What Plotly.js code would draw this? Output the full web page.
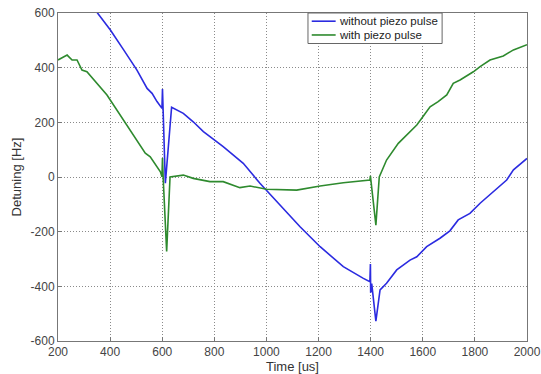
<!DOCTYPE html>
<html>
<head>
<meta charset="utf-8">
<script src="https://cdn.plot.ly/plotly-3.0.1.min.js"></script>
<style>html,body{margin:0;padding:0;background:#fff;}#chart{width:541px;height:374px;}</style>
</head>
<body>
<div id="chart"></div>
<script>
const seriesNames = ["without piezo pulse", "with piezo pulse"];
const seriesColors = ['#2b2be0', '#2e8a2e'];

const timeWithout = [200, 350, 401, 452, 503, 542, 561, 580, 599, 601, 603, 612, 636, 681, 719, 758, 834, 911, 975, 1045, 1129, 1206, 1295, 1372, 1397, 1399, 1400, 1401, 1402, 1404, 1420, 1436, 1449, 1461, 1500, 1551, 1577, 1615, 1666, 1704, 1736, 1781, 1820, 1871, 1922, 1948, 2000];
const detuningWithout = [790, 599, 538, 465, 391, 324, 306, 276, 251, 322, 245, -23, 255, 233, 202, 166, 111, 50, -23, -96, -182, -255, -328, -371, -383, -318, -423, -330, -415, -390, -527, -413, -401, -389, -340, -304, -292, -255, -224, -197, -157, -133, -96, -54, -11, 26, 68];

const timeWith = [200, 235, 254, 273, 292, 311, 388, 452, 535, 554, 593, 599, 601, 604, 617, 630, 681, 719, 783, 834, 898, 937, 988, 1001, 1116, 1206, 1295, 1397, 1399, 1402, 1420, 1433, 1461, 1506, 1551, 1577, 1596, 1628, 1659, 1692, 1717, 1743, 1794, 1820, 1858, 1909, 1948, 2000];
const detuningWith = [428, 446, 428, 428, 391, 385, 300, 209, 87, 74, 19, 1, 69, -10, -272, 0, 7, -5, -17, -17, -39, -33, -44, -45, -48, -33, -21, -11, 4, -20, -176, 0, 62, 123, 166, 190, 215, 257, 276, 300, 343, 355, 385, 404, 428, 443, 465, 484];

const xTicks = [200, 400, 600, 800, 1000, 1200, 1400, 1600, 1800, 2000];
const yTicks = [-600, -400, -200, 0, 200, 400, 600];

const FONT = 'Liberation Sans, Arial, sans-serif';

const data = [
  {x: timeWithout, y: detuningWithout, name: seriesNames[0], type: 'scatter', mode: 'lines',
   line: {color: seriesColors[0], width: 1.6}},
  {x: timeWith, y: detuningWith, name: seriesNames[1], type: 'scatter', mode: 'lines',
   line: {color: seriesColors[1], width: 1.6}}
];

const axisCommon = {
  showline: true, mirror: true, linecolor: '#777', linewidth: 1,
  showgrid: true, gridcolor: '#8a8a8a', griddash: '1px,2px', gridwidth: 1,
  zeroline: false, ticks: 'inside', ticklen: 4, tickcolor: '#777',
  tickfont: {family: FONT, size: 12, color: '#444'}
};

// manual legend (MATLAB style box) in paper coordinates
const legendBox = {x0: 0.533, x1: 0.819, y0: 0.907, y1: 1.0};
const legendRowsY = [0.975, 0.933];
const legendLineX = [0.541, 0.592];
const legendTextX = 0.596;

const shapes = [
  {type: 'rect', xref: 'paper', yref: 'paper', x0: legendBox.x0, x1: legendBox.x1, y0: legendBox.y0, y1: legendBox.y1,
   line: {color: '#666', width: 1}, fillcolor: '#fff', layer: 'above'}
];
const annotations = [];
seriesNames.forEach((n, i) => {
  shapes.push({type: 'line', xref: 'paper', yref: 'paper', x0: legendLineX[0], x1: legendLineX[1],
    y0: legendRowsY[i], y1: legendRowsY[i], line: {color: seriesColors[i], width: 1.6}, layer: 'above'});
  annotations.push({xref: 'paper', yref: 'paper', x: legendTextX, y: legendRowsY[i], xanchor: 'left', yanchor: 'middle',
    text: n, showarrow: false, borderpad: 0, font: {family: FONT, size: 11.5, color: '#222'}});
});

const layout = {
  width: 541, height: 374,
  margin: {l: 58, r: 14, t: 13, b: 33},
  paper_bgcolor: '#fff', plot_bgcolor: '#fff',
  showlegend: false,
  shapes: shapes,
  annotations: annotations,
  xaxis: Object.assign({}, axisCommon, {
    range: [200, 2000], tickvals: xTicks, ticktext: xTicks.map(String),
    title: {text: 'Time [us]', standoff: 2, font: {family: FONT, size: 13, color: '#333'}}
  }),
  yaxis: Object.assign({}, axisCommon, {
    range: [-600, 600], tickvals: yTicks, ticktext: yTicks.map(String),
    title: {text: 'Detuning [Hz]', standoff: 6, font: {family: FONT, size: 13, color: '#333'}}
  })
};

Plotly.newPlot('chart', data, layout, {displayModeBar: false, staticPlot: true});
</script>
</body>
</html>
